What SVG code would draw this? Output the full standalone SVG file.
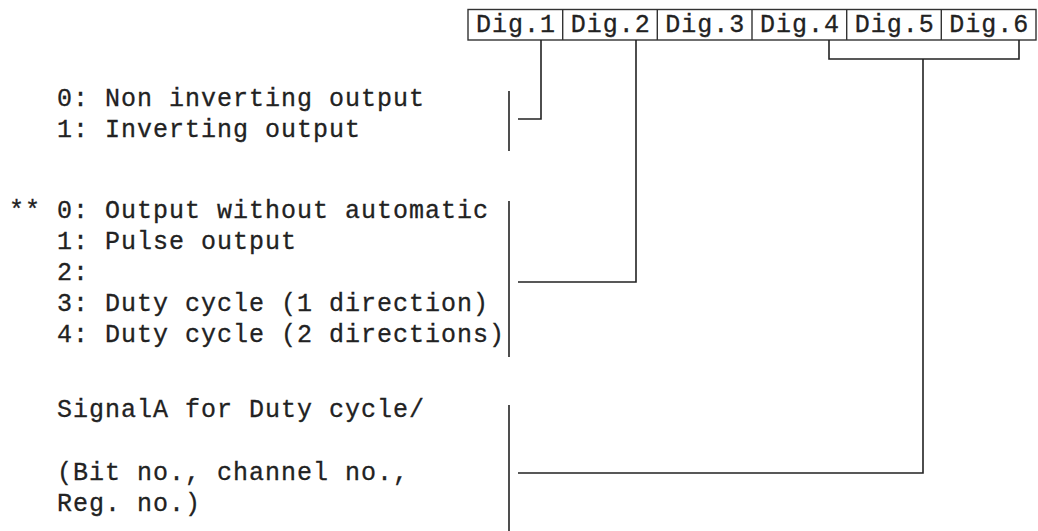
<svg xmlns="http://www.w3.org/2000/svg" width="1038" height="531" viewBox="0 0 1038 531">
<style>
text{font-family:"Liberation Mono","DejaVu Sans Mono",monospace;font-size:25px;letter-spacing:1px;fill:#222;stroke:#222;stroke-width:0.3}
.ln{stroke:#222;stroke-width:1.6;fill:none}
.box{stroke:#333;stroke-width:1.4;fill:none}
</style>
<rect width="1038" height="531" fill="#fff"/>
<g id="header">
<rect class="box" x="468" y="9.5" width="568" height="30.5"/>
<line class="box" x1="562.7" y1="9.5" x2="562.7" y2="40"/>
<line class="box" x1="657.3" y1="9.5" x2="657.3" y2="40"/>
<line class="box" x1="752" y1="9.5" x2="752" y2="40"/>
<line class="box" x1="846.7" y1="9.5" x2="846.7" y2="40"/>
<line class="box" x1="941.3" y1="9.5" x2="941.3" y2="40"/>
<text x="476" y="32">Dig.1</text>
<text x="570.7" y="32">Dig.2</text>
<text x="665.3" y="32">Dig.3</text>
<text x="760" y="32">Dig.4</text>
<text x="854.7" y="32">Dig.5</text>
<text x="949.3" y="32">Dig.6</text>
</g>
<g id="group1">
<text x="57" y="106">0: Non inverting output</text>
<text x="57" y="137">1: Inverting output</text>
<line class="ln" x1="509" y1="91" x2="509" y2="151"/>
</g>
<g id="group2">
<text x="9" y="218" xml:space="preserve">** 0: Output without automatic</text>
<text x="57" y="249">1: Pulse output</text>
<text x="57" y="280">2:</text>
<text x="57" y="311">3: Duty cycle (1 direction)</text>
<text x="57" y="342">4: Duty cycle (2 directions)</text>
<line class="ln" x1="509" y1="201" x2="509" y2="357"/>
</g>
<g id="group3">
<text x="57" y="417">SignalA for Duty cycle/</text>
<text x="57" y="480">(Bit no., channel no.,</text>
<text x="57" y="511">Reg. no.)</text>
<line class="ln" x1="509" y1="405" x2="509" y2="531"/>
</g>
<g id="connectors">
<polyline class="ln" points="541,40 541,119 518,119"/>
<polyline class="ln" points="636,40 636,282 518,282"/>
<polyline class="ln" points="829,40 829,59 1019,59 1019,40"/>
<polyline class="ln" points="923,59 923,473 518,473"/>
</g>
</svg>
